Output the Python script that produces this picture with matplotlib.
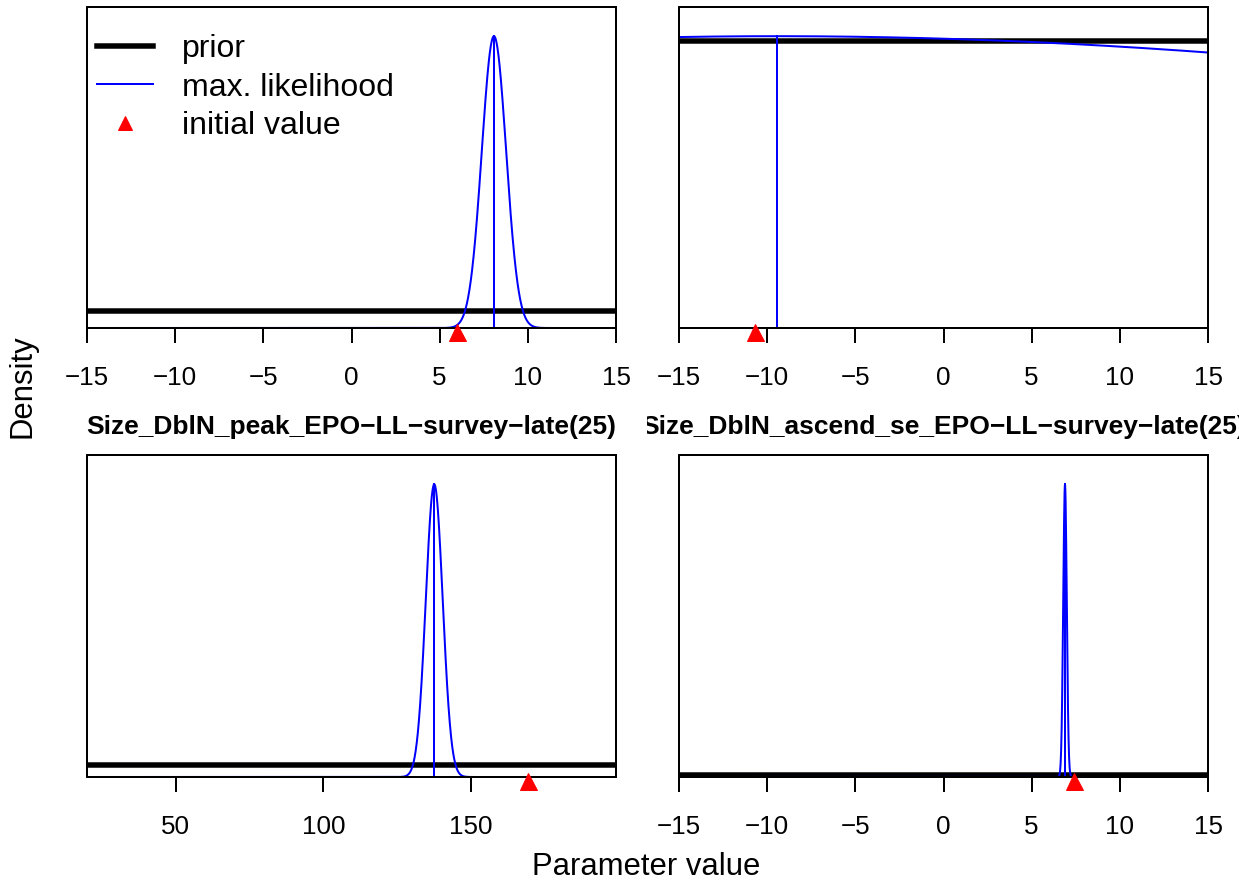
import numpy as np
import matplotlib
matplotlib.use('Agg')
import matplotlib.pyplot as plt
import matplotlib.transforms as mtransforms
from matplotlib.lines import Line2D

W, H = 1239, 886
DPI = 72

plt.rcParams['font.family'] = ['Liberation Sans', 'DejaVu Sans']

# parameter estimates
par_names = ['Size_DblN_peak_EPO\u2212LL\u2212survey\u2212late(25)',
             'Size_DblN_ascend_se_EPO\u2212LL\u2212survey\u2212late(25)',
             None, None]
x_min = [-15, -15, 20, -15]
x_max = [15, 15, 199, 15]
mle = [8.08, -9.44, 137.5, 6.89]
mle_sd = [0.69, 72.0, 2.86, 0.10]
init_val = [6.0, -10.7, 169.2, 7.42]
prior_dens = [0.0333, 0.00545, 0.0056, 0.0333]
tick_sets = [[-15, -10, -5, 0, 5, 10, 15], [-15, -10, -5, 0, 5, 10, 15],
             [50, 100, 150], [-15, -10, -5, 0, 5, 10, 15]]

# panel boxes in pixels: left, top, right, bottom
boxes = [(87, 7, 616, 328), (679, 7, 1208, 328),
         (87, 455, 616, 777), (679, 455, 1208, 777)]
# R clips each panel's label to its own figure cell
label_clip = [(0, 640), (647, W), None, None]

fig = plt.figure(figsize=(W / DPI, H / DPI), dpi=DPI)


def dnorm(x, mu, sd):
    return np.exp(-0.5 * ((x - mu) / sd) ** 2) / (sd * np.sqrt(2 * np.pi))


for i in range(4):
    l, t, r, b = boxes[i]
    ax = fig.add_axes([l / W, 1 - b / H, (r - l) / W, (b - t) / H])
    xs = np.linspace(x_min[i], x_max[i], 2000)
    ys = dnorm(xs, mle[i], mle_sd[i])
    peak = dnorm(mle[i], mle[i], mle_sd[i])

    ax.plot([x_min[i], x_max[i]], [prior_dens[i]] * 2, color='black', lw=5.5)
    ax.plot(xs, ys, color='blue', lw=2)
    ax.plot([mle[i], mle[i]], [0, peak], color='blue', lw=2)

    trans = mtransforms.offset_copy(ax.transData, fig=fig, x=0, y=-4, units='dots')
    ax.plot([init_val[i]], [0], marker='^', color='red', markersize=17,
            linestyle='none', clip_on=False, transform=trans, zorder=5)

    ax.set_xlim(x_min[i], x_max[i])
    ax.set_ylim(0, 1.1 * max(peak, prior_dens[i]))
    ax.set_yticks([])
    ax.set_xticks(tick_sets[i])
    ax.set_xticklabels([str(v).replace('-', '\u2212') for v in tick_sets[i]])
    ax.tick_params(axis='x', length=15, width=2, labelsize=26, pad=23)
    for sp in ax.spines.values():
        sp.set_linewidth(2)

    if par_names[i] is not None:
        txt = fig.text((l + r) / 2 / W, 1 - 427 / H, par_names[i], ha='center', va='center',
                       fontsize=26.4, fontweight='bold')
        c0, c1 = label_clip[i]
        txt.set_clip_box(mtransforms.Bbox([[c0, 0], [c1, H]]))
        txt.set_clip_on(True)

    if i == 0:
        handles = [Line2D([], [], color='black', lw=5.5),
                   Line2D([], [], color='blue', lw=2),
                   Line2D([], [], color='red', marker='^', markersize=14, linestyle='none')]
        ax.legend(handles, ['prior', 'max. likelihood', 'initial value'],
                  loc='upper left', bbox_to_anchor=(10 / 529, 1 - 27 / 321),
                  frameon=False, fontsize=32, handlelength=1.75, handletextpad=0.9,
                  labelspacing=0.27, borderpad=0, borderaxespad=0)

fig.text(22 / W, 1 - 386 / H, 'Density', rotation=90, ha='center', va='center', fontsize=31)
fig.text(646 / W, 1 - 867 / H, 'Parameter value', ha='center', va='center', fontsize=31)

fig.savefig('out.png', dpi=DPI)
